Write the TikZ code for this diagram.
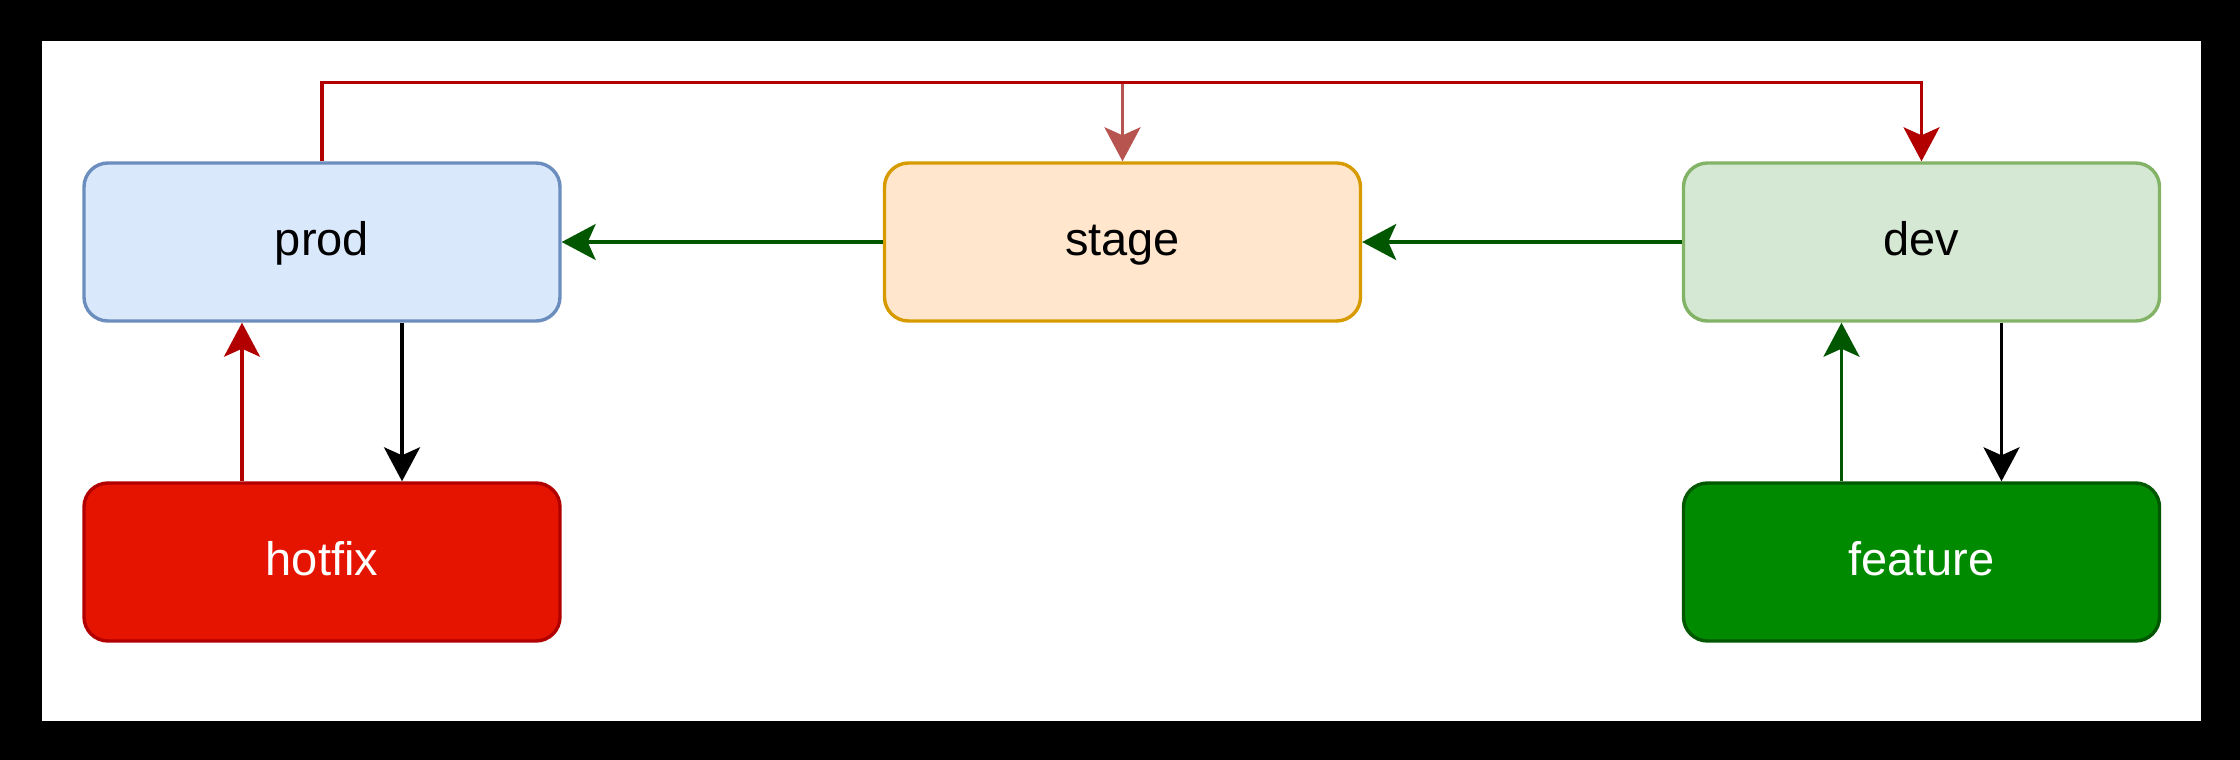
\documentclass[tikz,border=0pt]{standalone}
\usepackage{fontspec}
\setmainfont{Liberation Sans}
\usetikzlibrary{arrows.meta}
\definecolor{prodfill}{HTML}{DAE8FC}
\definecolor{prodline}{HTML}{6C8EBF}
\definecolor{stagefill}{HTML}{FFE6CC}
\definecolor{stageline}{HTML}{D79B00}
\definecolor{devfill}{HTML}{D5E8D4}
\definecolor{devline}{HTML}{82B366}
\definecolor{hotfill}{HTML}{E51400}
\definecolor{hotline}{HTML}{B20000}
\definecolor{featfill}{HTML}{008A00}
\definecolor{featline}{HTML}{005700}
\definecolor{softred}{HTML}{B85450}
\tikzset{
  box/.style={rounded corners=12pt, line width=1.7pt, minimum width=238pt, minimum height=79pt,
    font=\fontsize{23.5}{28}\selectfont, inner sep=0pt, text height=17pt, text depth=4pt},
  conn/.style={line width=1.7pt, -{Stealth[length=17pt,width=18pt,inset=4pt]}},
}
\begin{document}
\begin{tikzpicture}[x=0.5pt,y=-0.5pt]
\useasboundingbox (0,0) rectangle (2240,760);
\fill[black] (0,0) rectangle (2240,760);
\fill[white] (42,41) rectangle (2201,721);

\node[box, draw=prodline, fill=prodfill] (prod) at (322,242) {prod};
\node[box, draw=stageline, fill=stagefill] (stage) at (1122.5,242) {stage};
\node[box, draw=devline, fill=devfill] (dev) at (1921.5,242) {dev};
\node[box, draw=hotline, fill=hotfill, text=white] (hotfix) at (322,562) {hotfix};
\node[box, draw=featline, fill=featfill, text=white] (feature) at (1921.5,562) {feature};

\coordinate (top) at (322,82.5);

\draw[conn, draw=featline] (stage.west) -- (prod.east);
\draw[conn, draw=featline] (dev.west) -- (stage.east);
\draw[conn, draw=softred] (prod.north) |- (top -| stage.north) -- (stage.north);
\draw[conn, draw=hotline] (prod.north) |- (top -| dev.north) -- (dev.north);
\draw[conn, draw=hotline] ([xshift=-40pt]hotfix.north) -- ([xshift=-40pt]prod.south);
\draw[conn, draw=black] ([xshift=40pt]prod.south) -- ([xshift=40pt]hotfix.north);
\draw[conn, draw=featline] ([xshift=-40pt]feature.north) -- ([xshift=-40pt]dev.south);
\draw[conn, draw=black] ([xshift=40pt]dev.south) -- ([xshift=40pt]feature.north);
\end{tikzpicture}
\end{document}
